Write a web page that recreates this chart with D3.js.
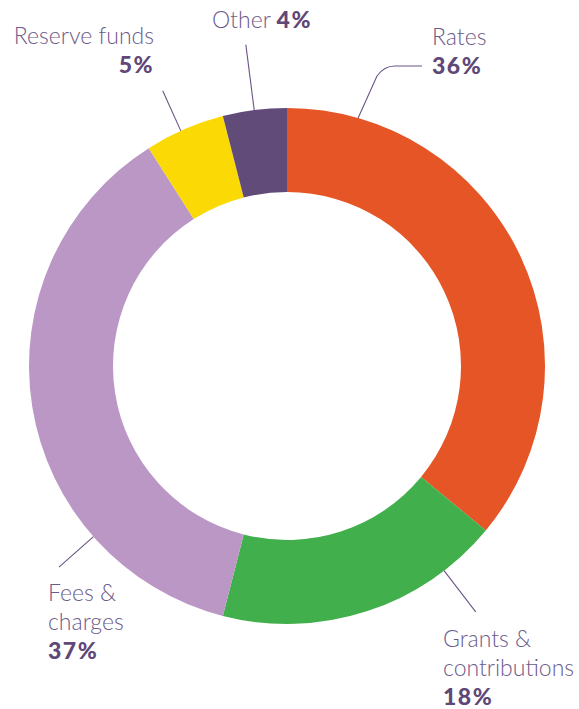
<!DOCTYPE html>
<html lang="en">
<head>
  <meta charset="UTF-8">
  <title>Revenue donut</title>
  <style>
    body { margin: 0; background: #fff; }
    svg { display: block; }
  </style>
</head>
<body>
  <svg id="svg" width="579" height="709"></svg>

  <script src="https://d3js.org/d3.v7.min.js"></script>
  <script>
    // data
    var categories = ["Rates", "Grants & contributions", "Fees & charges", "Reserve funds", "Other"];
    var values = [36, 18, 37, 5, 4];
    var colors = ["#e55525", "#41af4b", "#ba97c4", "#fbd905", "#614b79"];

    // label layout (offsets from the centre of the ring)
    var labels = [
      { lines: ["Rates"], x: 145, y: -321, anchor: "start", inline: false,
        leader: { angle: 16, r1: 0 } },
      { lines: ["Grants &", "contributions"], x: 156, y: 281, anchor: "start", inline: false,
        leader: { angle: 142.5, r1: 310 } },
      { lines: ["Fees &", "charges"], x: -239, y: 235, anchor: "start", inline: false,
        leader: { angle: 228.6, r1: 304 } },
      { lines: ["Reserve funds"], x: -133, y: -322, anchor: "end", inline: false,
        leader: { angle: -24.3, r1: 302 } },
      { lines: ["Other"], x: -75, y: -338, anchor: "start", inline: true,
        leader: { angle: -7.3, r1: 324 } }
    ];

    var svg = d3.select("svg"),
      width = +svg.attr("width"),
      height = +svg.attr("height"),
      outerRadius = 258,
      innerRadius = 174,
      lineHeight = 29.2,
      g = svg.append("g").attr("transform", "translate(287,366)");

    var pie = d3.pie().sort(null).value(function (d) { return d; });
    var arc = d3.arc().innerRadius(innerRadius).outerRadius(outerRadius);
    var arcs = pie(values);

    g.append("g")
      .selectAll("path")
      .data(arcs)
      .enter().append("path")
      .attr("fill", function (d, i) { return colors[i]; })
      .attr("d", arc);

    // leader lines
    var rad = Math.PI / 180;
    var leaders = g.append("g")
      .attr("fill", "none")
      .attr("stroke", "#6a5585")
      .attr("stroke-width", 1.1);

    labels.forEach(function (l, i) {
      var p0 = d3.pointRadial(l.leader.angle * rad, outerRadius);
      if (i === 0) {
        // rates: bends into a horizontal run towards the label
        var path = d3.path();
        path.moveTo(p0[0], p0[1]);
        path.lineTo(90, -290);
        path.quadraticCurveTo(97, -300, 108, -300);
        path.lineTo(l.x - 10, -300);
        leaders.append("path").attr("d", path.toString());
      } else {
        var p1 = d3.pointRadial(l.leader.angle * rad, l.leader.r1);
        leaders.append("line")
          .attr("x1", p0[0]).attr("y1", p0[1])
          .attr("x2", p1[0]).attr("y2", p1[1]);
      }
    });

    // label text
    var label = g.append("g")
      .selectAll("text")
      .data(labels)
      .enter().append("text")
      .attr("x", function (d) { return d.x; })
      .attr("y", function (d) { return d.y; })
      .attr("text-anchor", function (d) { return d.anchor; })
      .attr("font-family", "Lato, 'Open Sans', sans-serif")
      .attr("font-size", 23);

    label.each(function (d, i) {
      var t = d3.select(this);
      d.lines.forEach(function (s, k) {
        t.append("tspan")
          .attr("x", d.x)
          .attr("dy", k === 0 ? 0 : lineHeight)
          .attr("fill", "#6c5a89")
          .attr("font-weight", 300)
          .text(s);
      });
      var pct = values[i] + "%";
      var p;
      if (d.inline) {
        t.append("tspan").attr("font-weight", 300).text(" ");
        p = t.append("tspan");
      } else {
        p = t.append("tspan")
          .attr("x", d.x)
          .attr("dy", lineHeight);
      }
      p.attr("fill", "#5f4777")
        .attr("font-weight", 900)
        .attr("letter-spacing", 1.5)
        .text(pct);
    });
  </script>
</body>
</html>
